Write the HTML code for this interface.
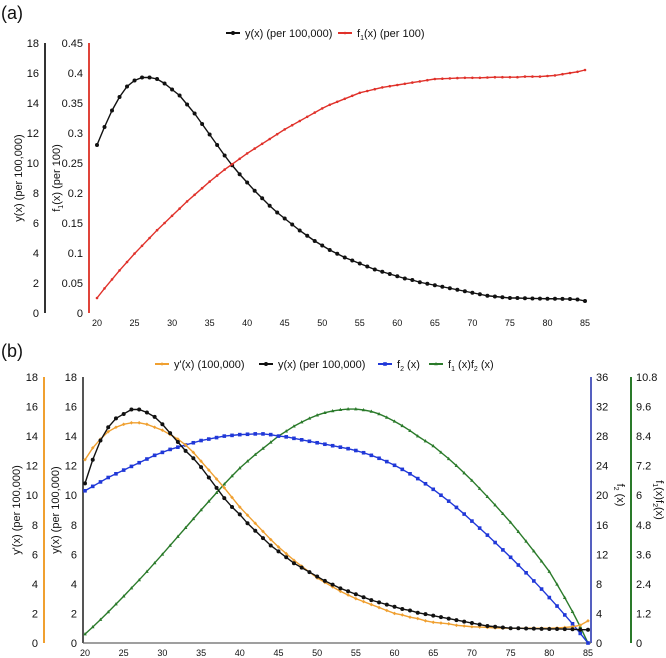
<!DOCTYPE html>
<html><head><meta charset="utf-8"><style>
body{margin:0;background:#fff}
svg{display:block;font-family:"Liberation Sans",sans-serif}
</style></head><body>
<svg id="chart" width="666" height="658" viewBox="0 0 666 658" xmlns="http://www.w3.org/2000/svg"></svg>
<script>
const ages = [];for(let a=20;a<=85;a++)ages.push(a);
const xTicks=[20,25,30,35,40,45,50,55,60,65,70,75,80,85];
const aYLeftTicks=[0,2,4,6,8,10,12,14,16,18];
const aF1Ticks=["0","0.05","0.1","0.15","0.2","0.25","0.3","0.35","0.4","0.45"];
const bF2Ticks=[0,4,8,12,16,20,24,28,32,36];
const bF1F2Ticks=["0","1.2","2.4","3.6","4.8","6","7.2","8.4","9.6","10.8"];
const aY=[11.2,12.4,13.5,14.4,15.1,15.5,15.7,15.7,15.6,15.3,14.9,14.5,13.9,13.3,12.6,11.9,11.2,10.5,9.85,9.25,8.7,8.15,7.65,7.15,6.7,6.3,5.9,5.5,5.15,4.8,4.5,4.2,3.95,3.7,3.5,3.3,3.1,2.9,2.75,2.6,2.45,2.3,2.2,2.05,1.95,1.85,1.75,1.65,1.55,1.45,1.35,1.25,1.15,1.1,1.05,1.0,1.0,0.98,0.97,0.96,0.95,0.95,0.94,0.93,0.9,0.8];
const aF1=[0.025,0.041,0.056,0.071,0.085,0.099,0.112,0.125,0.138,0.150,0.162,0.174,0.186,0.197,0.208,0.219,0.229,0.239,0.248,0.257,0.266,0.274,0.282,0.290,0.298,0.306,0.313,0.320,0.327,0.334,0.341,0.347,0.352,0.357,0.362,0.367,0.370,0.373,0.376,0.378,0.380,0.382,0.384,0.386,0.388,0.390,0.3905,0.391,0.3915,0.392,0.392,0.392,0.3925,0.393,0.393,0.393,0.393,0.394,0.394,0.394,0.395,0.396,0.398,0.400,0.402,0.405];
const bYp=[12.4,13.2,13.8,14.3,14.6,14.8,14.9,14.9,14.8,14.6,14.4,14.1,13.8,13.4,12.9,12.3,11.7,11.1,10.5,9.85,9.2,8.65,8.1,7.55,7.0,6.5,6.05,5.6,5.2,4.8,4.4,4.1,3.8,3.5,3.25,3.0,2.8,2.6,2.4,2.2,2.0,1.9,1.75,1.65,1.5,1.4,1.35,1.3,1.2,1.15,1.1,1.08,1.05,1.02,1.0,1.0,1.0,1.0,1.0,1.0,1.0,1.02,1.05,1.1,1.2,1.5];
const bY=[10.8,12.4,13.7,14.6,15.2,15.5,15.8,15.8,15.6,15.3,14.8,14.2,13.6,13.0,12.5,11.9,11.2,10.5,9.8,9.2,8.7,8.1,7.6,7.1,6.6,6.2,5.8,5.4,5.1,4.8,4.5,4.2,3.95,3.7,3.5,3.3,3.1,2.9,2.75,2.6,2.45,2.3,2.2,2.05,1.95,1.85,1.75,1.65,1.55,1.45,1.35,1.25,1.15,1.1,1.05,1.0,1.0,0.98,0.97,0.96,0.95,0.95,0.94,0.93,0.9,0.9];
const bF2=[20.6,21.2,21.8,22.4,22.9,23.4,23.9,24.4,24.9,25.4,25.8,26.2,26.5,26.8,27.1,27.4,27.6,27.8,28.0,28.1,28.2,28.25,28.3,28.3,28.2,28.0,27.9,27.7,27.5,27.3,27.1,26.9,26.7,26.5,26.3,26.05,25.75,25.4,25.0,24.55,24.05,23.5,22.9,22.25,21.55,20.8,20.0,19.2,18.35,17.45,16.5,15.55,14.6,13.6,12.6,11.6,10.55,9.5,8.4,7.3,6.15,5.0,3.8,2.6,1.3,0];
const bF1F2=[0.36,0.65,0.95,1.26,1.58,1.9,2.23,2.56,2.9,3.25,3.6,3.96,4.32,4.68,5.04,5.4,5.75,6.1,6.45,6.78,7.1,7.38,7.65,7.9,8.15,8.4,8.6,8.8,8.97,9.12,9.25,9.35,9.42,9.47,9.5,9.5,9.46,9.4,9.3,9.16,9.0,8.82,8.62,8.4,8.2,8.0,7.74,7.48,7.2,6.9,6.6,6.27,5.94,5.6,5.25,4.9,4.52,4.13,3.73,3.32,2.9,2.38,1.84,1.27,0.66,0];

const svg=document.getElementById('chart');const NS="http://www.w3.org/2000/svg";
function el(t,a,txt,parent){const e=document.createElementNS(NS,t);for(const k in a)e.setAttribute(k,a[k]);if(txt!==undefined)e.textContent=txt;(parent||svg).appendChild(e);return e;}
const axA=a=>97+(a-20)*(585-97)/65;
const axB=a=>85+(a-20)*(588-85)/65;
const ayTop=43,ayBot=313,byTop=377,byBot=643;
const sc=(top,bot,max)=>v=>bot-(v/max)*(bot-top);
const aL=sc(ayTop,ayBot,18),aR=sc(ayTop,ayBot,0.45);
const bL=sc(byTop,byBot,18),bB=sc(byTop,byBot,36),bG=sc(byTop,byBot,10.8);

function marker(g,shape,x,y,c){
  if(shape==='circle')el('circle',{cx:x,cy:y,r:2,fill:c},undefined,g);
  else if(shape==='square')el('rect',{x:x-1.8,y:y-1.8,width:3.6,height:3.6,fill:c},undefined,g);
  else if(shape==='tri')el('path',{d:`M${x} ${y-2}L${x+1.8} ${y+1.3}L${x-1.8} ${y+1.3}Z`,fill:c},undefined,g);
  else if(shape==='diamond')el('path',{d:`M${x} ${y-1.8}L${x+1.8} ${y}L${x} ${y+1.8}L${x-1.8} ${y}Z`,fill:c},undefined,g);
  else el('circle',{cx:x,cy:y,r:1.3,fill:c},undefined,g);
}
function series(name,vals,xf,yf,c,shape){
  const g=el('g',{});
  
  
  const pts=vals.map((v,i)=>[xf(ages[i]),yf(v)]);
  el('polyline',{points:pts.map(p=>p.join(',')).join(' '),fill:'none',stroke:c,'stroke-width':1.4},undefined,g);
  pts.forEach(p=>marker(g,shape,p[0],p[1],c));
}
function vaxis(name,x,top,bot,labels,color,side){
  const g=el('g',{});
  
  
  el('line',{x1:x,y1:top,x2:x,y2:bot,stroke:color,'stroke-width':2},undefined,g);
  labels.forEach((l,i)=>{const y=bot-i*(bot-top)/(labels.length-1);
    el('text',{x:side==='l'?x-6:x+5,y:y+4,'font-size':11,'text-anchor':side==='l'?'end':'start',fill:'#111'},String(l),g);});
}
function xaxis(name,xf,y,x0,x1,line){
  const g=el('g',{});
  
  
  if(line)el('line',{x1:x0,y1:y,x2:x1,y2:y,stroke:'#666','stroke-width':1.2},undefined,g);
  xTicks.forEach(t=>el('text',{x:xf(t),y:y+13,'font-size':9,'text-anchor':'middle',fill:'#111'},String(t),g));
}
function rtitle(name,x,y,txt,rot){
  const t=el('text',{x:x,y:y,'font-size':11,'text-anchor':'middle',fill:'#111',transform:`rotate(${rot} ${x} ${y})`});
  
  
  t.innerHTML=txt;
}
function legend(name,x,y,c,shape,txt){
  const g=el('g',{});
  
  
  el('line',{x1:x-7,y1:y,x2:x+7,y2:y,stroke:c,'stroke-width':2},undefined,g);
  marker(g,shape,x,y,c);
  const t=el('text',{x:x+12,y:y+4,'font-size':11,fill:'#111'},undefined,g);t.innerHTML=txt;
}
// Panel a
el('text',{x:1,y:19,'font-size':18,fill:'#111',},'(a)');
vaxis('a-left-y-axis',45,ayTop,ayBot,aYLeftTicks,'#333','l');
vaxis('a-f1-y-axis',89,ayTop,ayBot,aF1Ticks,'#e0443a','l');
xaxis('a-x-axis',axA,313,89,590,false);
rtitle('a-left-y-title',22,178,'y(x) (per 100,000)',-90);
rtitle('a-f1-y-title',60,178,'f<tspan font-size="7" dy="3">1</tspan><tspan dy="-3">(x) (per 100)</tspan>',-90);
series('a-series-y',aY,axA,aL,'#111','circle');
series('a-series-f1',aF1,axA,aR,'#e0312a','small');
legend('a-legend-y',233,33,'#111','circle','y(x) (per 100,000)');
legend('a-legend-f1',345,33,'#e0312a','small','f<tspan font-size="7" dy="3">1</tspan><tspan dy="-3">(x) (per 100)</tspan>');
// Panel b
el('text',{x:1,y:357,'font-size':18,fill:'#111',},'(b)');
vaxis('b-yprime-axis',44,byTop,byBot,aYLeftTicks,'#f0a030','l');
vaxis('b-y-axis',83,byTop,byBot,aYLeftTicks,'#555','l');
vaxis('b-f2-axis',591,byTop,byBot,bF2Ticks,'#5560c0','r');
vaxis('b-f1f2-axis',631,byTop,byBot,bF1F2Ticks,'#2a7a2a','r');
xaxis('b-x-axis',axB,643,83,591,true);
rtitle('b-yprime-title',20,510,"y'(x) (per 100,000)",-90);
rtitle('b-y-title',59,510,'y(x) (per 100,000)',-90);
rtitle('b-f2-title',617,495,'f<tspan font-size="7" dy="3">2</tspan><tspan dy="-3"> (x)</tspan>',90);
rtitle('b-f1f2-title',656,500,'f<tspan font-size="7" dy="3">1</tspan><tspan dy="-3">(x)f</tspan><tspan font-size="7" dy="3">2</tspan><tspan dy="-3">(x)</tspan>',90);
series('b-series-f1f2',bF1F2,axB,bG,'#2a7a2a','tri');
series('b-series-f2',bF2,axB,bB,'#2038d8','square');
series('b-series-yprime',bYp,axB,bL,'#f0a030','diamond');
series('b-series-y',bY,axB,bL,'#111','circle');
legend('b-legend-yprime',162,364,'#f0a030','diamond',"y'(x) (100,000)");
legend('b-legend-y',266,364,'#111','circle','y(x) (per 100,000)');
legend('b-legend-f2',385,364,'#2038d8','square','f<tspan font-size="7" dy="3">2</tspan><tspan dy="-3"> (x)</tspan>');
legend('b-legend-f1f2',436,364,'#2a7a2a','tri','f<tspan font-size="7" dy="3">1</tspan><tspan dy="-3"> (x)f</tspan><tspan font-size="7" dy="3">2</tspan><tspan dy="-3"> (x)</tspan>');
</script>
</body></html>
